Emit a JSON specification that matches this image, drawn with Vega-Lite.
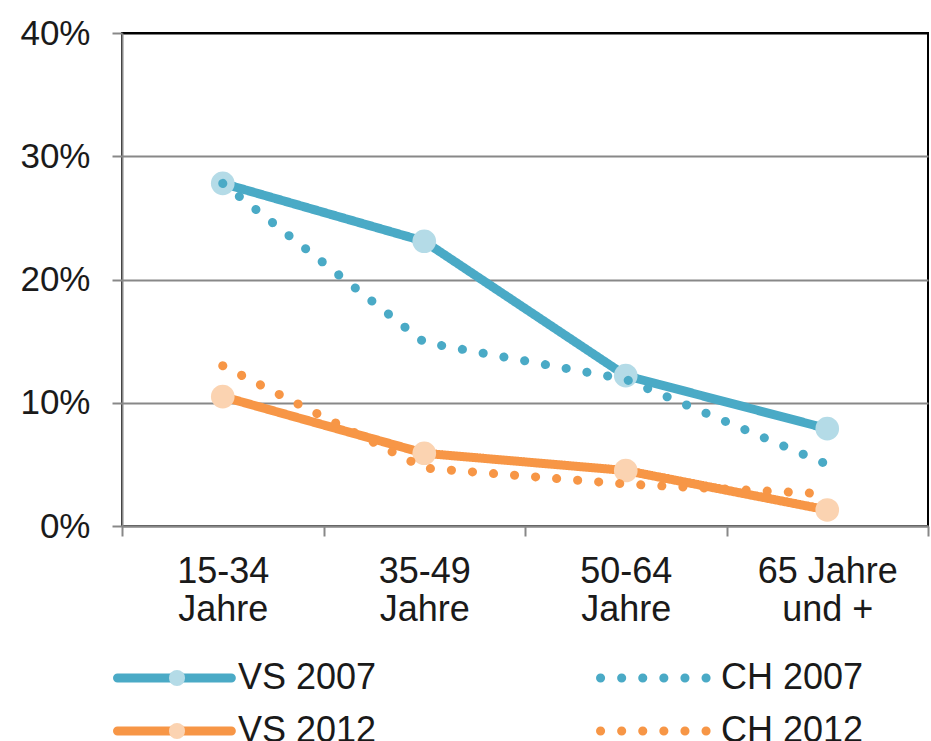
{
  "$schema": "https://vega.github.io/schema/vega-lite/v6.json",
  "width": 806,
  "height": 493,
  "autosize": {"type": "none"},
  "padding": {"left": 122, "top": 33, "right": 3, "bottom": 215},
  "background": "white",
  "config": {
    "font": "Liberation Sans",
    "view": {"stroke": "black", "strokeWidth": 2}
  },
  "data": {
    "values": [
      {"age": "15-34 Jahre", "series": "VS 2007", "value": 27.8},
      {"age": "35-49 Jahre", "series": "VS 2007", "value": 23.1},
      {"age": "50-64 Jahre", "series": "VS 2007", "value": 12.2},
      {"age": "65 Jahre und +", "series": "VS 2007", "value": 7.9},
      {"age": "15-34 Jahre", "series": "CH 2007", "value": 27.8},
      {"age": "35-49 Jahre", "series": "CH 2007", "value": 14.9},
      {"age": "50-64 Jahre", "series": "CH 2007", "value": 11.9},
      {"age": "65 Jahre und +", "series": "CH 2007", "value": 5.0},
      {"age": "15-34 Jahre", "series": "VS 2012", "value": 10.5},
      {"age": "35-49 Jahre", "series": "VS 2012", "value": 5.9},
      {"age": "50-64 Jahre", "series": "VS 2012", "value": 4.5},
      {"age": "65 Jahre und +", "series": "VS 2012", "value": 1.3},
      {"age": "15-34 Jahre", "series": "CH 2012", "value": 13.0},
      {"age": "35-49 Jahre", "series": "CH 2012", "value": 4.7},
      {"age": "50-64 Jahre", "series": "CH 2012", "value": 3.4},
      {"age": "65 Jahre und +", "series": "CH 2012", "value": 2.6}
    ]
  },
  "encoding": {
    "x": {
      "field": "age",
      "type": "nominal",
      "sort": ["15-34 Jahre", "35-49 Jahre", "50-64 Jahre", "65 Jahre und +"],
      "scale": {"type": "band", "paddingInner": 0, "paddingOuter": 0},
      "axis": {
        "title": null,
        "labelAngle": 0,
        "labelExpr": "isString(datum.value) ? (datum.value == '65 Jahre und +' ? ['65 Jahre', 'und +'] : split(datum.value, ' ')) : ''",
        "labelFontSize": 36,
        "labelColor": "#1a1a1a",
        "labelLineHeight": 38,
        "labelPadding": 18,
        "labelBaseline": "top",
        "tickBand": "extent",
        "tickSize": 10,
        "tickWidth": 2,
        "tickColor": "#888888",
        "domainColor": "#888888",
        "domainWidth": 2,
        "grid": false
      }
    },
    "y": {
      "field": "value",
      "type": "quantitative",
      "scale": {"domain": [0, 40]},
      "axis": {
        "title": null,
        "values": [0, 10, 20, 30, 40],
        "labelExpr": "datum.value + '%'",
        "labelFontSize": 35,
        "labelColor": "#1a1a1a",
        "labelPadding": 22,
        "tickSize": 10,
        "tickWidth": 2,
        "tickColor": "#888888",
        "domainColor": "#888888",
        "domainWidth": 2,
        "grid": true,
        "gridWidth": 2,
        "gridColor": {"condition": {"test": "datum.value == 40", "value": "black"}, "value": "#888888"}
      }
    },
    "color": {
      "field": "series",
      "type": "nominal",
      "scale": {
        "domain": ["VS 2007", "CH 2007", "VS 2012", "CH 2012"],
        "range": ["#4aaac6", "#4aaac6", "#f79646", "#f79646"]
      },
      "legend": {
        "title": null,
        "orient": "none",
        "legendX": -13,
        "legendY": 627,
        "direction": "horizontal",
        "columns": 2,
        "columnPadding": 205,
        "rowPadding": 17,
        "padding": 0,
        "symbolType": "M-1,0H11",
        "symbolSize": 360,
        "symbolStrokeWidth": 9,
        "labelFontSize": 36,
        "labelColor": "#1a1a1a",
        "labelOffset": 93,
        "labelLimit": 300,
        "encode": {"symbols": {"update": {"strokeCap": {"value": "round"}}}}
      }
    },
    "strokeDash": {
      "field": "series",
      "type": "nominal",
      "scale": {
        "domain": ["VS 2007", "CH 2007", "VS 2012", "CH 2012"],
        "range": [[1, 0], [0.1, 21], [1, 0], [0.1, 21]]
      }
    }
  },
  "layer": [
    {
      "transform": [{"filter": "indexof(datum.series, 'VS') == 0"}],
      "mark": {"type": "line", "strokeWidth": 9, "strokeCap": "round", "strokeJoin": "round"}
    },
    {
      "transform": [{"filter": "indexof(datum.series, 'VS') == 0"}],
      "mark": {"type": "circle", "size": 560, "opacity": 1},
      "encoding": {
        "color": null,
        "strokeDash": null,
        "fill": {
          "field": "series",
          "type": "nominal",
          "scale": {"domain": ["VS 2007", "VS 2012"], "range": ["#b4dbe7", "#fbd3b1"]},
          "legend": {
            "title": null,
            "orient": "none",
            "legendX": 37,
            "legendY": 627,
            "direction": "vertical",
            "rowPadding": 17,
            "padding": 0,
            "zindex": 2,
            "symbolType": "circle",
            "symbolSize": 260,
            "symbolStrokeWidth": 0,
            "symbolOpacity": 1,
            "labelFontSize": 36,
            "labelExpr": "''",
            "labelOffset": 0
          }
        }
      }
    },
    {
      "transform": [{"filter": "indexof(datum.series, 'CH') == 0"}],
      "mark": {"type": "line", "strokeWidth": 9, "strokeCap": "round", "strokeJoin": "round"}
    }
  ]
}
